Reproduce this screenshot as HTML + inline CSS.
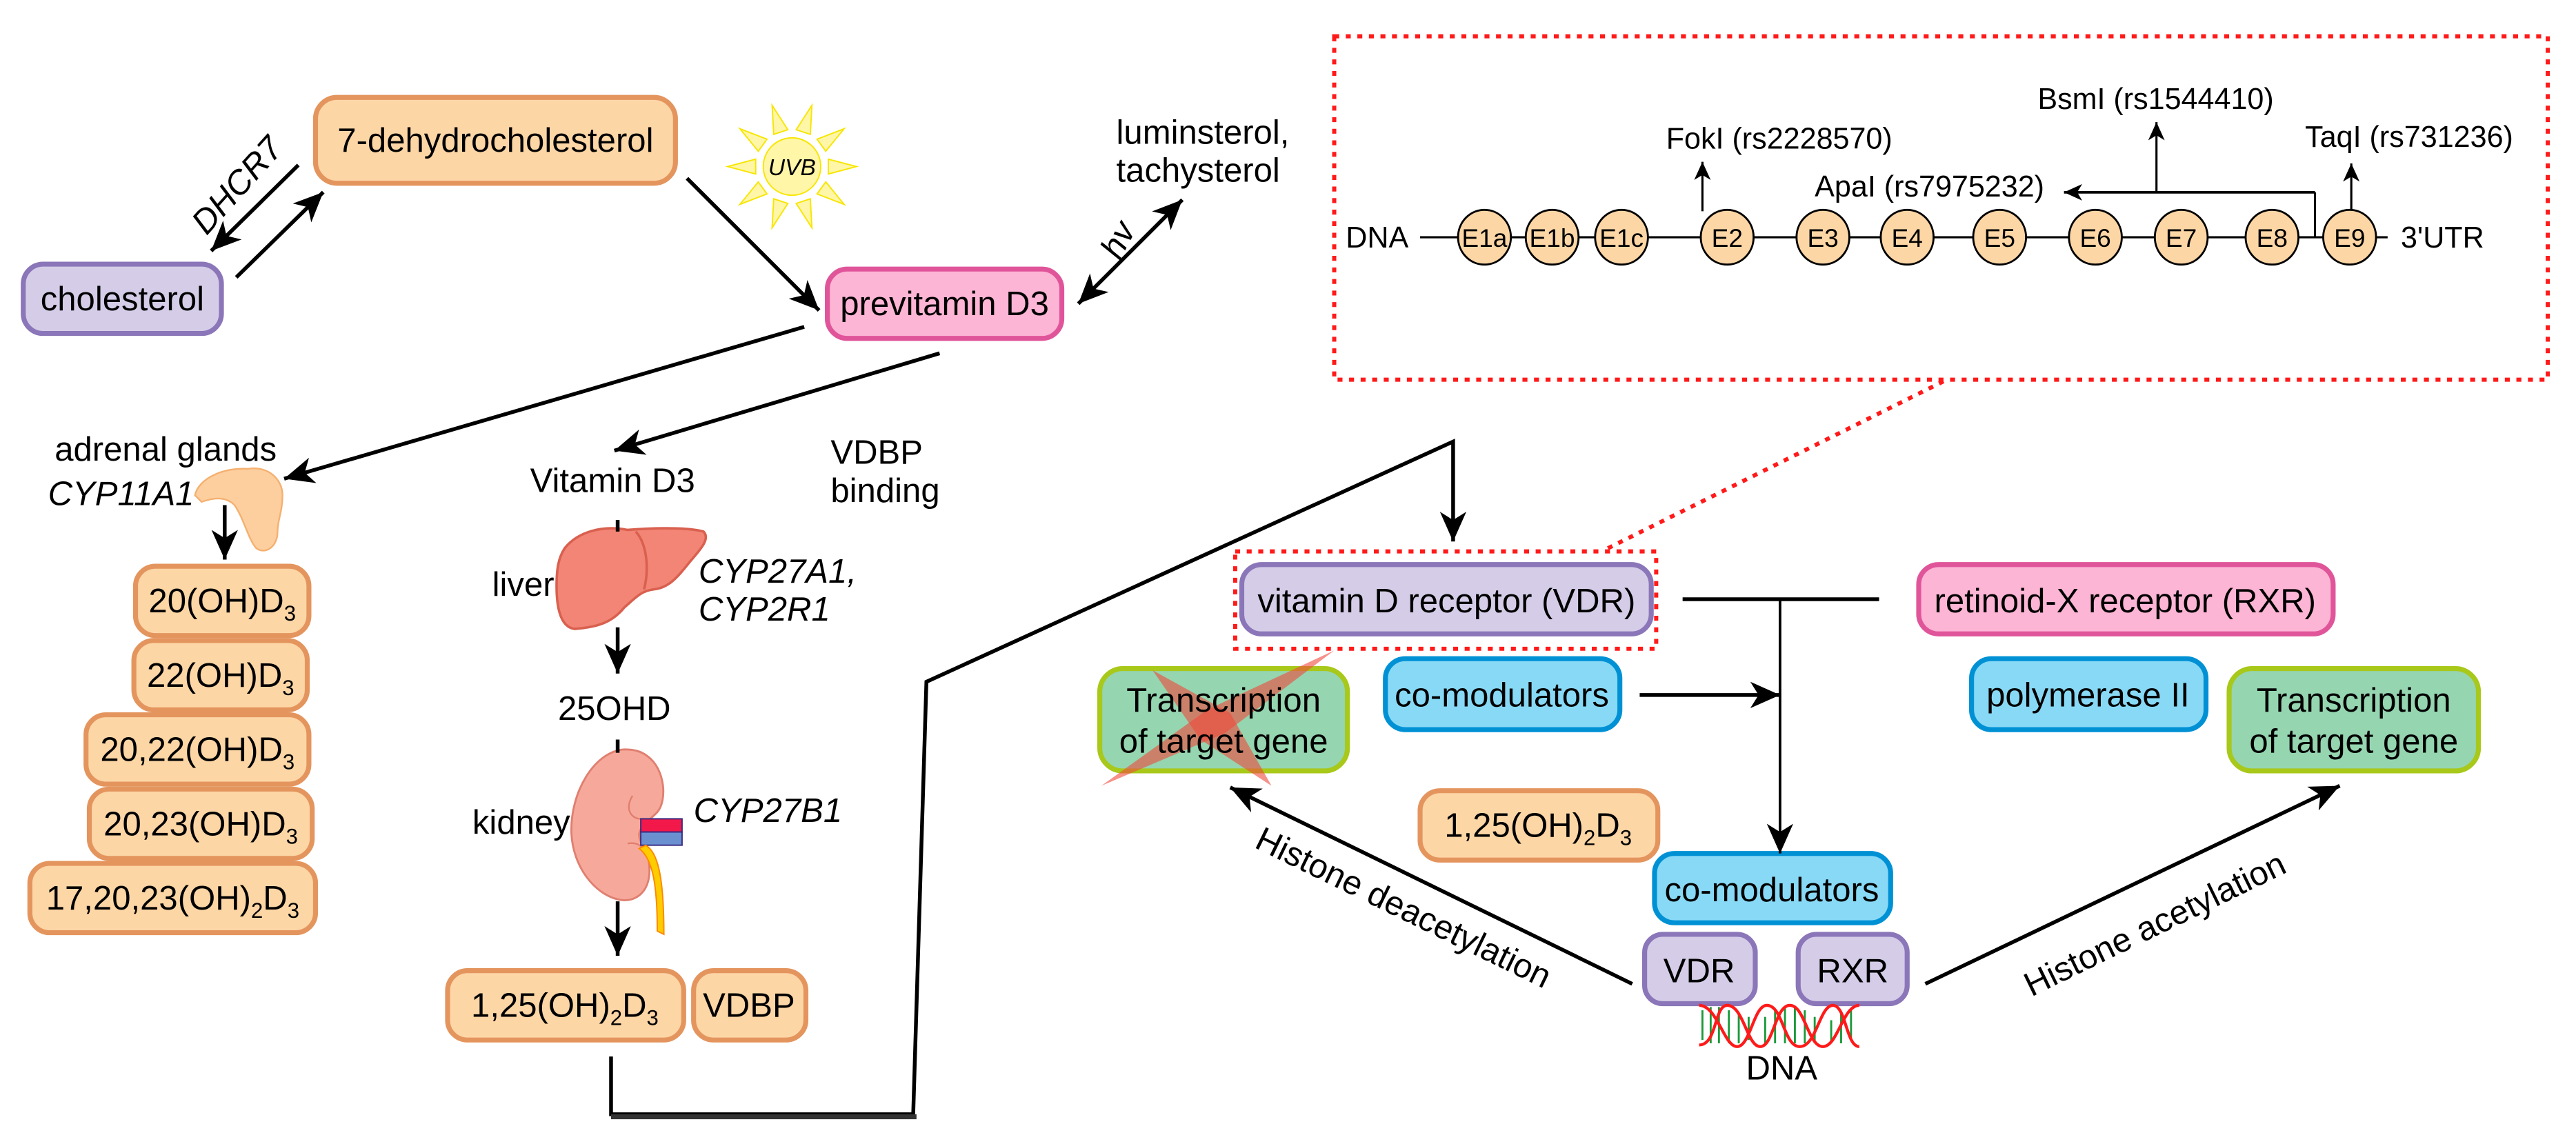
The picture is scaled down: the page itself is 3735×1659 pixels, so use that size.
<!DOCTYPE html>
<html><head><meta charset="utf-8"><style>html,body{margin:0;padding:0;background:#fff}svg{display:block}</style></head>
<body>
<svg width="3735" height="1659" viewBox="0 0 1560 693" xmlns="http://www.w3.org/2000/svg" font-family="'Liberation Sans', sans-serif">
<defs>
<marker id="ah" markerUnits="userSpaceOnUse" markerWidth="20" markerHeight="16" viewBox="0 0 20 16" refX="18" refY="8" orient="auto-start-reverse"><path d="M0,0 L18,8 L0,16 L5,8 Z" fill="#000"/></marker>
<marker id="ahs" markerUnits="userSpaceOnUse" markerWidth="12" markerHeight="10" viewBox="0 0 12 10" refX="11" refY="5" orient="auto"><path d="M0,0 L11,5 L0,10 L3,5 Z" fill="#000"/></marker>
</defs>
<rect width="1560" height="693" fill="#fff"/>
<g stroke-width="3">
<rect x="191" y="59" width="218" height="52" rx="13" fill="#fdd6a6" stroke="#e4955e"/>
<rect x="14" y="160" width="120" height="42" rx="12" fill="#d5cde8" stroke="#8a76b8"/>
<rect x="501" y="163" width="142" height="42" rx="12" fill="#fdb5d5" stroke="#e0559a"/>
<rect x="82" y="343" width="105" height="42" rx="12" fill="#fdd6a6" stroke="#e4955e"/>
<rect x="81" y="388" width="105" height="42" rx="12" fill="#fdd6a6" stroke="#e4955e"/>
<rect x="52" y="433" width="135" height="42" rx="12" fill="#fdd6a6" stroke="#e4955e"/>
<rect x="54" y="478" width="135" height="42" rx="12" fill="#fdd6a6" stroke="#e4955e"/>
<rect x="18" y="523" width="173" height="42" rx="12" fill="#fdd6a6" stroke="#e4955e"/>
<rect x="271" y="588" width="143" height="42" rx="12" fill="#fdd6a6" stroke="#e4955e"/>
<rect x="420" y="588" width="68" height="42" rx="12" fill="#fdd6a6" stroke="#e4955e"/>
<rect x="752" y="342" width="248" height="42" rx="12" fill="#d5cde8" stroke="#8a76b8"/>
<rect x="1162" y="342" width="251" height="42" rx="12" fill="#fdb5d5" stroke="#e0559a"/>
<rect x="666" y="405" width="150" height="62" rx="14" fill="#95d5b0" stroke="#a8c81a"/>
<rect x="1350" y="405" width="151" height="62" rx="14" fill="#95d5b0" stroke="#a8c81a"/>
<rect x="839" y="399" width="142" height="43" rx="12" fill="#88d9f5" stroke="#0091d5"/>
<rect x="1194" y="399" width="142" height="43" rx="12" fill="#88d9f5" stroke="#0091d5"/>
<rect x="860" y="479" width="144" height="42" rx="12" fill="#fdd6a6" stroke="#e4955e"/>
<rect x="1002" y="517" width="143" height="42" rx="12" fill="#88d9f5" stroke="#0091d5"/>
<rect x="996" y="566" width="67" height="42" rx="11" fill="#d5cde8" stroke="#8a76b8"/>
<rect x="1089" y="566" width="66" height="42" rx="11" fill="#d5cde8" stroke="#8a76b8"/>
</g>
<g fill="#f04a3a" fill-opacity="0.6">
<polygon points="808,394 742,444 667,476 731,430"/>
<polygon points="698,406 745,432 770,476 727,448"/>
</g>
<g fill="#fff6a8" stroke="#f7e600" stroke-width="0.8">
<g transform="translate(479.6,100.9)">
<polygon points="22,-4.5 39,0 22,4.5" transform="rotate(0)"/>
<polygon points="22,-4.5 39,0 22,4.5" transform="rotate(36)"/>
<polygon points="22,-4.5 39,0 22,4.5" transform="rotate(72)"/>
<polygon points="22,-4.5 39,0 22,4.5" transform="rotate(108)"/>
<polygon points="22,-4.5 39,0 22,4.5" transform="rotate(144)"/>
<polygon points="22,-4.5 39,0 22,4.5" transform="rotate(180)"/>
<polygon points="22,-4.5 39,0 22,4.5" transform="rotate(216)"/>
<polygon points="22,-4.5 39,0 22,4.5" transform="rotate(252)"/>
<polygon points="22,-4.5 39,0 22,4.5" transform="rotate(288)"/>
<polygon points="22,-4.5 39,0 22,4.5" transform="rotate(324)"/>
<circle r="17.4"/>
</g>
</g>
<text x="479.6" y="106" font-size="14" font-style="italic" text-anchor="middle">UVB</text>
<path d="M118,300 C120,290 135,283 150,284 C162,282 171,290 171,300 C171,310 168,315 168,322 C168,332 160,336 155,332 C150,326 148,315 142,306 C136,300 128,302 122,304 Z" fill="#fdcf9f" stroke="#f5b070" stroke-width="1"/>
<path d="M342,332 C350,322 365,318 380,321 C392,320 415,319 426,322 C430,326 425,332 418,340 C410,350 405,356 396,357 C388,358 385,362 378,368 C370,378 360,380 348,381 C340,380 337,370 337,355 C337,345 338,338 342,332 Z" fill="#f28575" stroke="#d9604f" stroke-width="1.5"/>
<path d="M385,322 C392,330 393,345 390,357" fill="none" stroke="#d9604f" stroke-width="1.5"/>
<path d="M392,458 C403,466 404,485 398,492 C392,498 388,500 387,505 C387,512 392,514 393,523 C395,540 385,547 375,545 C360,542 347,525 346,505 C345,480 360,455 378,454 C384,454 388,455 392,458 Z" fill="#f6a99a" stroke="#e07f70" stroke-width="1.2"/>
<path d="M383,482 C378,490 382,497 390,496" fill="none" stroke="#e07f70" stroke-width="1"/>
<path d="M380,511 C385,510 388,512 389,514" fill="none" stroke="#e07f70" stroke-width="1"/>
<rect x="388" y="496" width="25" height="8" fill="#f2184a" stroke="#3a2a80" stroke-width="0.8"/>
<rect x="388" y="504" width="25" height="8" fill="#6a90d0" stroke="#3a2a80" stroke-width="0.8"/>
<path d="M391,512 C398,516 402,530 402,566 L398,564 C398,535 395,520 387,514 Z" fill="#ffcc00" stroke="#ff8800" stroke-width="0.8"/>
<g stroke="#000" stroke-width="2.3" fill="none">
<line x1="180.6" y1="100" x2="127.8" y2="152" marker-end="url(#ah)"/>
<line x1="143" y1="168" x2="195.7" y2="116.4" marker-end="url(#ah)"/>
<line x1="416" y1="108" x2="496" y2="188" marker-end="url(#ah)"/>
<line x1="716" y1="121" x2="653" y2="184" marker-end="url(#ah)" marker-start="url(#ah)"/>
<line x1="487" y1="198" x2="172" y2="290" marker-end="url(#ah)"/>
<line x1="569" y1="214" x2="372" y2="273" marker-end="url(#ah)"/>
<line x1="136" y1="306" x2="136" y2="339" marker-end="url(#ah)"/>
<line x1="374" y1="315" x2="374" y2="322"/>
<line x1="374" y1="380" x2="374" y2="408" marker-end="url(#ah)"/>
<line x1="374" y1="448" x2="374" y2="456"/>
<line x1="374" y1="546" x2="374" y2="579" marker-end="url(#ah)"/>
<polyline points="370,640 370,675 553,675 561,413 880,267.5 880,328" marker-end="url(#ah)"/>
<line x1="1019" y1="363" x2="1138" y2="363"/>
<line x1="1078" y1="363" x2="1078" y2="517" stroke-width="1.6" marker-end="url(#ah)"/>
<line x1="993" y1="421" x2="1078" y2="421" marker-end="url(#ah)"/>
<line x1="988.5" y1="596" x2="745" y2="477" marker-end="url(#ah)"/>
<line x1="1166" y1="596" x2="1417" y2="476" marker-end="url(#ah)"/>
</g>
<rect x="370" y="675" width="185" height="3" fill="#333"/>
<g fill="none" stroke="#ff1a1a" stroke-width="2.5" stroke-dasharray="3,4">
<rect x="808" y="22" width="735" height="208"/>
<rect x="748" y="334" width="255" height="59"/>
<line x1="1177" y1="231" x2="972" y2="333"/>
</g>
<g stroke="#000" stroke-width="1.3" fill="none">
<line x1="860" y1="143.7" x2="1446" y2="143.7"/>
<line x1="1031" y1="128" x2="1031" y2="98" marker-end="url(#ahs)"/>
<line x1="1402" y1="143.7" x2="1402" y2="116.5"/>
<line x1="1402" y1="116.5" x2="1250" y2="116.5" stroke-width="1.6" marker-end="url(#ahs)"/>
<line x1="1306" y1="116.5" x2="1306" y2="74" marker-end="url(#ahs)"/>
<line x1="1424" y1="127" x2="1424" y2="99" marker-end="url(#ahs)"/>
</g>
<g fill="#fdd6a6" stroke="#000" stroke-width="1.2">
<ellipse cx="899" cy="143.7" rx="16" ry="16.6"/><ellipse cx="940" cy="143.7" rx="16" ry="16.6"/><ellipse cx="982" cy="143.7" rx="16" ry="16.6"/><ellipse cx="1046" cy="143.7" rx="16" ry="16.6"/><ellipse cx="1104" cy="143.7" rx="16" ry="16.6"/><ellipse cx="1155" cy="143.7" rx="16" ry="16.6"/><ellipse cx="1211" cy="143.7" rx="16" ry="16.6"/><ellipse cx="1269" cy="143.7" rx="16" ry="16.6"/><ellipse cx="1321" cy="143.7" rx="16" ry="16.6"/><ellipse cx="1376" cy="143.7" rx="16" ry="16.6"/><ellipse cx="1423" cy="143.7" rx="16" ry="16.6"/>
</g>
<g font-size="15.5" text-anchor="middle">
<text x="899" y="149.5">E1a</text><text x="940" y="149.5">E1b</text><text x="982" y="149.5">E1c</text><text x="1046" y="149.5">E2</text><text x="1104" y="149.5">E3</text><text x="1155" y="149.5">E4</text><text x="1211" y="149.5">E5</text><text x="1269" y="149.5">E6</text><text x="1321" y="149.5">E7</text><text x="1376" y="149.5">E8</text><text x="1423" y="149.5">E9</text>
</g>
<g font-size="18">
<text x="815" y="150">DNA</text>
<text x="1454" y="150">3'UTR</text>
<text x="1009" y="90">FokI (rs2228570)</text>
<text x="1234" y="66">BsmI (rs1544410)</text>
<text x="1099" y="119">ApaI (rs7975232)</text>
<text x="1396" y="89">TaqI (rs731236)</text>
</g>
<g stroke="#1a9a3a" stroke-width="1.2">
<line x1="1031" y1="612" x2="1031" y2="630"/><line x1="1036" y1="610" x2="1036" y2="632"/><line x1="1041" y1="610" x2="1041" y2="632"/><line x1="1047" y1="612" x2="1047" y2="632"/><line x1="1053" y1="614" x2="1053" y2="632"/><line x1="1059" y1="616" x2="1059" y2="630"/><line x1="1069" y1="616" x2="1069" y2="632"/><line x1="1075" y1="612" x2="1075" y2="632"/><line x1="1081" y1="610" x2="1081" y2="632"/><line x1="1087" y1="610" x2="1087" y2="632"/><line x1="1093" y1="612" x2="1093" y2="632"/><line x1="1099" y1="616" x2="1099" y2="632"/><line x1="1109" y1="618" x2="1109" y2="632"/><line x1="1115" y1="614" x2="1115" y2="632"/><line x1="1121" y1="611" x2="1121" y2="630"/>
</g>
<g stroke="#ff1a1a" stroke-width="1.8" fill="none">
<path d="M1029,633 C1040,633 1038,609 1046,609 C1056,609 1058,634 1066,634 C1074,634 1075,609 1084,609 C1093,609 1095,634 1104,634 C1113,634 1116,609 1126,609"/>
<path d="M1029,609 C1040,609 1044,634 1052,634 C1060,634 1062,609 1070,609 C1080,609 1080,634 1090,634 C1100,634 1102,609 1110,609 C1118,609 1118,634 1126,634"/>
</g>
<g font-size="20.5" text-anchor="middle">
<text x="300" y="92">7-dehydrocholesterol</text>
<text x="74" y="188">cholesterol</text>
<text x="572" y="191">previtamin D3</text>
<text x="134.5" y="371">20(OH)D<tspan font-size="13" dy="5">3</tspan></text>
<text x="133.5" y="416">22(OH)D<tspan font-size="13" dy="5">3</tspan></text>
<text x="119.5" y="461">20,22(OH)D<tspan font-size="13" dy="5">3</tspan></text>
<text x="121.5" y="506">20,23(OH)D<tspan font-size="13" dy="5">3</tspan></text>
<text x="104.5" y="551">17,20,23(OH)<tspan font-size="13" dy="5">2</tspan><tspan dy="-5">D</tspan><tspan font-size="13" dy="5">3</tspan></text>
<text x="342" y="616">1,25(OH)<tspan font-size="13" dy="5">2</tspan><tspan dy="-5">D</tspan><tspan font-size="13" dy="5">3</tspan></text>
<text x="453.5" y="616">VDBP</text>
<text x="931.5" y="507">1,25(OH)<tspan font-size="13" dy="5">2</tspan><tspan dy="-5">D</tspan><tspan font-size="13" dy="5">3</tspan></text>
<text x="876" y="371">vitamin D receptor (VDR)</text>
<text x="1287" y="371">retinoid-X receptor (RXR)</text>
<text x="909.5" y="428">co-modulators</text>
<text x="1264.5" y="428">polymerase II</text>
<text x="741" y="431">Transcription</text>
<text x="741" y="456">of target gene</text>
<text x="1425.5" y="431">Transcription</text>
<text x="1425.5" y="456">of target gene</text>
<text x="1073" y="546">co-modulators</text>
<text x="1029" y="595">VDR</text>
<text x="1122" y="595">RXR</text>
<text x="1079" y="654">DNA</text>
<text x="372" y="436">25OHD</text>
</g>
<g font-size="20.5">
<text x="676" y="87">luminsterol,</text>
<text x="676" y="110">tachysterol</text>
<text x="33" y="279">adrenal glands</text>
<text x="29" y="306" font-style="italic">CYP11A1</text>
<text x="321" y="298">Vitamin D3</text>
<text x="503" y="281">VDBP</text>
<text x="503" y="304">binding</text>
<text x="298" y="361">liver</text>
<text x="423" y="353" font-style="italic">CYP27A1,</text>
<text x="423" y="376" font-style="italic">CYP2R1</text>
<text x="286" y="505">kidney</text>
<text x="420" y="498" font-style="italic">CYP27B1</text>
<text transform="translate(125,143) rotate(-48)" font-style="italic">DHCR7</text>
<text transform="translate(678,158) rotate(-62)" font-style="italic">hv</text>
<text transform="translate(847,556) rotate(26)" text-anchor="middle">Histone deacetylation</text>
<text transform="translate(1308,566) rotate(-26)" text-anchor="middle">Histone acetylation</text>
</g>
</svg>
</body></html>
